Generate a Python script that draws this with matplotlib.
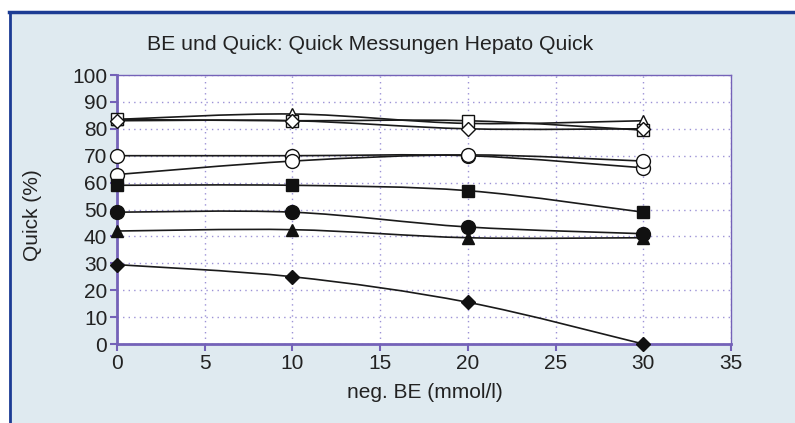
import numpy as np
import matplotlib
matplotlib.use("Agg")
import matplotlib.pyplot as plt
from matplotlib.path import Path
from matplotlib.patches import PathPatch, Rectangle
from matplotlib.transforms import IdentityTransform

plt.rcParams['font.family'] = ['Liberation Sans', 'DejaVu Sans']

x = [0, 10, 20, 30]
series = [
    # name, values, marker, filled
    ("tri_open", [83.5, 85.5, 82.0, 83.0], "^", False),
    ("sq_open", [83.5, 83.0, 83.0, 79.5], "s", False),
    ("dia_open", [83.0, 83.0, 80.0, 80.0], "D", False),
    ("circ_open_a", [70.0, 70.0, 70.0, 65.5], "o", False),
    ("circ_open_b", [63.0, 68.0, 70.3, 68.0], "o", False),
    ("sq_filled", [59.0, 59.0, 57.0, 49.0], "s", True),
    ("circ_filled", [49.0, 49.0, 43.5, 41.0], "o", True),
    ("tri_filled", [42.0, 42.5, 39.5, 39.5], "^", True),
    ("dia_filled", [29.5, 25.0, 15.5, 0.0], "D", True),
]
title = "BE und Quick: Quick Messungen Hepato Quick"
xlabel = "neg. BE (mmol/l)"
ylabel = "Quick (%)"
xticks = [0, 5, 10, 15, 20, 25, 30, 35]
yticks = [0, 10, 20, 30, 40, 50, 60, 70, 80, 90, 100]

bg = "#dfeaf0"
purple = "#7462b8"
gridc = "#9c92d6"

fig = plt.figure(figsize=(7.95, 4.23), dpi=100)
fig.patch.set_facecolor("white")
# framed background panel
fig.patches.append(Rectangle((9/795, 0), 1 - 9/795, 1 - 11/423, transform=fig.transFigure,
                             facecolor=bg, edgecolor="none", zorder=-5))
fig.lines.append(plt.Line2D([9/795, 1], [1 - 12.5/423, 1 - 12.5/423], transform=fig.transFigure,
                            color="#1c3c94", lw=2.5, zorder=-4))
fig.lines.append(plt.Line2D([10/795, 10/795], [0, 1 - 12/423], transform=fig.transFigure,
                            color="#1c3c94", lw=2.0, zorder=-4))

ax = fig.add_axes([117/795, 1 - 344/423, (731 - 117)/795, (344 - 75)/423])
ax.set_zorder(2)
ax.set_facecolor("white")
ax.set_xlim(0, 35)
ax.set_ylim(0, 100)
ax.set_xticks(xticks)
ax.set_yticks(yticks)
ax.grid(True, color=gridc, linestyle=(0, (1, 3)), linewidth=1.0)
ax.set_axisbelow(True)
for s in ["top", "right"]:
    ax.spines[s].set_color(purple)
    ax.spines[s].set_linewidth(1.0)
for s in ["left", "bottom"]:
    ax.spines[s].set_color(purple)
    ax.spines[s].set_linewidth(2.0)
ax.tick_params(axis="both", colors=purple, labelcolor="#222222", labelsize=15,
               length=5, width=1.5, direction="out", pad=2)


def smooth_path(xs, ys):
    """Catmull-Rom style Bezier through the data points (Excel 'smoothed line')."""
    trans = ax.transData
    pts = np.array([trans.transform((a, b)) for a, b in zip(xs, ys)])
    verts = [pts[0]]
    codes = [Path.MOVETO]
    n = len(pts)
    for i in range(n - 1):
        p0 = pts[i - 1] if i > 0 else pts[i]
        p1 = pts[i]
        p2 = pts[i + 1]
        p3 = pts[i + 2] if i + 2 < n else pts[i + 1]
        c1 = p1 + (p2 - p0) / 6.0
        c2 = p2 - (p3 - p1) / 6.0
        verts += [c1, c2, p2]
        codes += [Path.CURVE4] * 3
    return Path(verts, codes)


fig.canvas.draw()
for i, (name, vals, m, filled) in enumerate(series):
    path = smooth_path(x, vals)
    patch = PathPatch(path, facecolor="none", edgecolor="#1a1a1a", lw=1.2, zorder=3)
    patch.set_transform(IdentityTransform())
    patch.set_clip_on(False)
    ax.add_artist(patch)

for i, (name, vals, m, filled) in enumerate(series):
    ms = {"o": 10, "s": 8.5, "D": 7.5, "^": 9}[m]
    ax.plot(x, vals, linestyle="none", marker=m, markersize=ms,
            markerfacecolor="#111111" if filled else "white",
            markeredgecolor="#111111", markeredgewidth=1.0,
            clip_on=False, zorder=4 + i * 0.01)

fig.text(370/795, 1 - 44/423, title, ha="center", va="center", fontsize=15.3, color="#222222")
fig.text(425/795, 1 - 392/423, xlabel, ha="center", va="center", fontsize=15, color="#222222")
fig.text(32/795, 1 - 215/423, ylabel, ha="center", va="center", rotation=90, fontsize=15,
         color="#222222")

fig.savefig("out.png", dpi=100, facecolor=fig.get_facecolor())
